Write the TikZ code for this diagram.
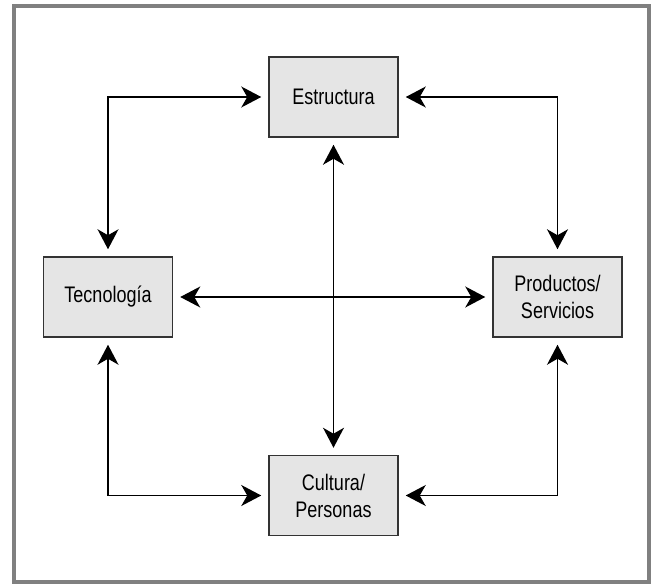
\documentclass[tikz,border=0pt]{standalone}
\usepackage{fontspec}
\setmainfont[FakeStretch=0.8]{Liberation Sans}
\usetikzlibrary{arrows.meta}

\begin{document}
\begin{tikzpicture}[x=1pt, y=-1pt, >={Stealth[length=20pt,width=21pt,inset=6pt]}, flecha/.style={<->, line width=1.4pt, shorten <=7pt, shorten >=7pt}]
        \tikzset{caja/.style={rectangle, minimum height=80pt, minimum width=129pt, draw=black!80, line width=1.5pt, fill=black!10, align=center, font=\fontsize{22.5}{27}\selectfont}};
        \useasboundingbox (0, 0) rectangle (653, 586);
        \draw[black!50, line width=3.5pt] (14, 6) rectangle (649, 582);

        \node[caja] (estr) at (333.5, 97) {Estructura};
        \node[caja] (tec) at (108, 297) {Tecnología};
        \node[caja] (prod) at (557.5, 297) {Productos/\\Servicios};
        \node[caja] (cult) at (333.5, 495.5) {Cultura/\\Personas};

        \draw[flecha] (tec.north) |- (estr.west);
        \draw[flecha] (prod.north) |- (estr.east);
        \draw[flecha] (tec.south) |- (cult.west);
        \draw[flecha] (prod.south) |- (cult.east);
        \draw[flecha] (tec.east) -- (prod.west);
        \draw[flecha] (estr.south) -- (cult.north);
    \end{tikzpicture}
\end{document}
